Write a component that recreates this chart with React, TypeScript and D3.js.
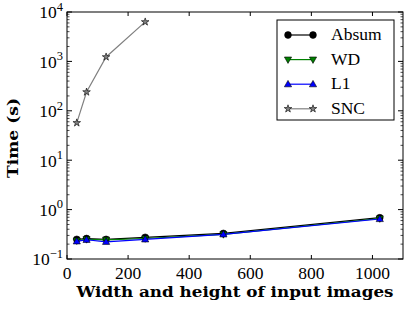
import { useEffect, useRef } from "react";
import * as d3 from "d3";

const sizes = [32, 64, 128, 256, 512, 1024];
const absum = [0.25, 0.26, 0.25, 0.275, 0.33, 0.685];
const wd = [0.235, 0.25, 0.245, 0.26, 0.315, 0.66];
const l1 = [0.228, 0.245, 0.223, 0.25, 0.316, 0.645];
const sncSizes = [32, 64, 128, 256];
const snc = [57, 240, 1230, 6300];
const xTicks = [0, 200, 400, 600, 800, 1000];
const yExps = [-1, 0, 1, 2, 3, 4];

const W = 406;
const H = 309;
const m = { left: 67, right: 3, top: 12, bottom: 50 };
const FONT = "'Liberation Serif', 'DejaVu Serif', serif";
const BOLD = "'DejaVu Serif', serif";

type Series = { name: string; xs: number[]; ys: number[]; color: string; marker: string };

const series: Series[] = [
  { name: "Absum", xs: sizes, ys: absum, color: "#000000", marker: "circle" },
  { name: "WD", xs: sizes, ys: wd, color: "#008000", marker: "down" },
  { name: "L1", xs: sizes, ys: l1, color: "#0000ff", marker: "up" },
  { name: "SNC", xs: sncSizes, ys: snc, color: "#808080", marker: "star" },
];

function markerPath(kind: string) {
  if (kind === "circle") return d3.symbol(d3.symbolCircle, 36)()!;
  if (kind === "up") return "M0,-3.8L3.6,2.6L-3.6,2.6Z";
  if (kind === "down") return "M0,3.8L3.6,-2.6L-3.6,-2.6Z";
  return d3.symbol(d3.symbolStar, 18)()!;
}

function Chart() {
  const ref = useRef<SVGSVGElement>(null);

  useEffect(() => {
    const svg = d3.select(ref.current);
    svg.selectAll("*").remove();

    const iw = W - m.left - m.right;
    const ih = H - m.top - m.bottom;

    const x = d3.scaleLinear().domain([0, 1100]).range([m.left, m.left + iw]);
    const y = d3.scaleLog().domain([0.1, 10000]).range([m.top + ih, m.top]);

    svg.append("rect").attr("width", W).attr("height", H).attr("fill", "#fff");

    const g = svg.append("g");

    // ticks point inward on all four sides
    xTicks.forEach((t) => {
      const px = x(t);
      g.append("line").attr("x1", px).attr("x2", px).attr("y1", m.top + ih).attr("y2", m.top + ih - 4).attr("stroke", "#000");
      g.append("line").attr("x1", px).attr("x2", px).attr("y1", m.top).attr("y2", m.top + 4).attr("stroke", "#000");
      g.append("text")
        .attr("x", px)
        .attr("y", m.top + ih + 19.5)
        .attr("text-anchor", "middle")
        .attr("font-family", FONT)
        .attr("font-size", 17.5)
        .text(t);
    });

    yExps.forEach((e) => {
      const py = y(Math.pow(10, e));
      g.append("line").attr("x1", m.left).attr("x2", m.left + 5).attr("y1", py).attr("y2", py).attr("stroke", "#000");
      g.append("line").attr("x1", m.left + iw).attr("x2", m.left + iw - 5).attr("y1", py).attr("y2", py).attr("stroke", "#000");
      if (e < 4) {
        for (let k = 2; k <= 9; k++) {
          const my = y(k * Math.pow(10, e));
          g.append("line").attr("x1", m.left).attr("x2", m.left + 2.5).attr("y1", my).attr("y2", my).attr("stroke", "#000").attr("stroke-width", 0.7);
          g.append("line").attr("x1", m.left + iw).attr("x2", m.left + iw - 2.5).attr("y1", my).attr("y2", my).attr("stroke", "#000").attr("stroke-width", 0.7);
        }
      }
      const txt = g.append("text")
        .attr("x", m.left - 4)
        .attr("y", py + 6.3)
        .attr("text-anchor", "end")
        .attr("font-family", FONT)
        .attr("font-size", 17.5);
      txt.append("tspan").text("10");
      txt.append("tspan").attr("dy", -7.5).attr("font-size", 12.5).text(e < 0 ? "\u2212" + Math.abs(e) : String(e));
    });

    // lines and markers
    series.forEach((s) => {
      const pts = s.xs.map((d, i) => [x(d), y(s.ys[i])] as [number, number]);
      g.append("path")
        .attr("d", d3.line()(pts))
        .attr("fill", "none")
        .attr("stroke", s.color)
        .attr("stroke-width", 1.2);
      g.selectAll(null)
        .data(pts)
        .enter()
        .append("path")
        .attr("d", markerPath(s.marker))
        .attr("transform", (p) => `translate(${p[0]},${p[1]})`)
        .attr("fill", s.color)
        .attr("stroke", "#000")
        .attr("stroke-width", 0.6);
    });

    // frame
    g.append("rect")
      .attr("x", m.left)
      .attr("y", m.top)
      .attr("width", iw)
      .attr("height", ih)
      .attr("fill", "none")
      .attr("stroke", "#000")
      .attr("stroke-width", 1);

    // legend
    const lg = g.append("g");
    lg.append("rect")
      .attr("x", 277)
      .attr("y", 20)
      .attr("width", 117)
      .attr("height", 100)
      .attr("fill", "#fff")
      .attr("stroke", "#000");
    series.forEach((s, i) => {
      const ly = 35 + i * 24.6;
      lg.append("line").attr("x1", 288).attr("x2", 313).attr("y1", ly).attr("y2", ly).attr("stroke", s.color).attr("stroke-width", 1.2);
      [288, 313].forEach((lx) => {
        lg.append("path")
          .attr("d", markerPath(s.marker))
          .attr("transform", `translate(${lx},${ly})`)
          .attr("fill", s.color)
          .attr("stroke", "#000")
          .attr("stroke-width", 0.6);
      });
      lg.append("text")
        .attr("x", 331)
        .attr("y", ly + 5)
        .attr("font-family", FONT)
        .attr("font-size", 17.5)
        .text(s.name);
    });

    // axis titles
    g.append("text")
      .attr("x", m.left + iw / 2)
      .attr("y", 297)
      .attr("text-anchor", "middle")
      .attr("font-family", BOLD)
      .attr("font-weight", "bold")
      .attr("font-size", 15)
      .attr("textLength", 317)
      .attr("lengthAdjust", "spacingAndGlyphs")
      .text("Width and height of input images");
    g.append("text")
      .attr("transform", `translate(18,138) rotate(-90)`)
      .attr("text-anchor", "middle")
      .attr("font-family", BOLD)
      .attr("font-weight", "bold")
      .attr("font-size", 15)
      .attr("textLength", 80)
      .attr("lengthAdjust", "spacingAndGlyphs")
      .text("Time (s)");
  }, []);

  return <svg ref={ref} width={W} height={H} style={{ position: "absolute", left: 0, top: 0 }} />;
}

export default function App() {
  return <Chart />;
}
